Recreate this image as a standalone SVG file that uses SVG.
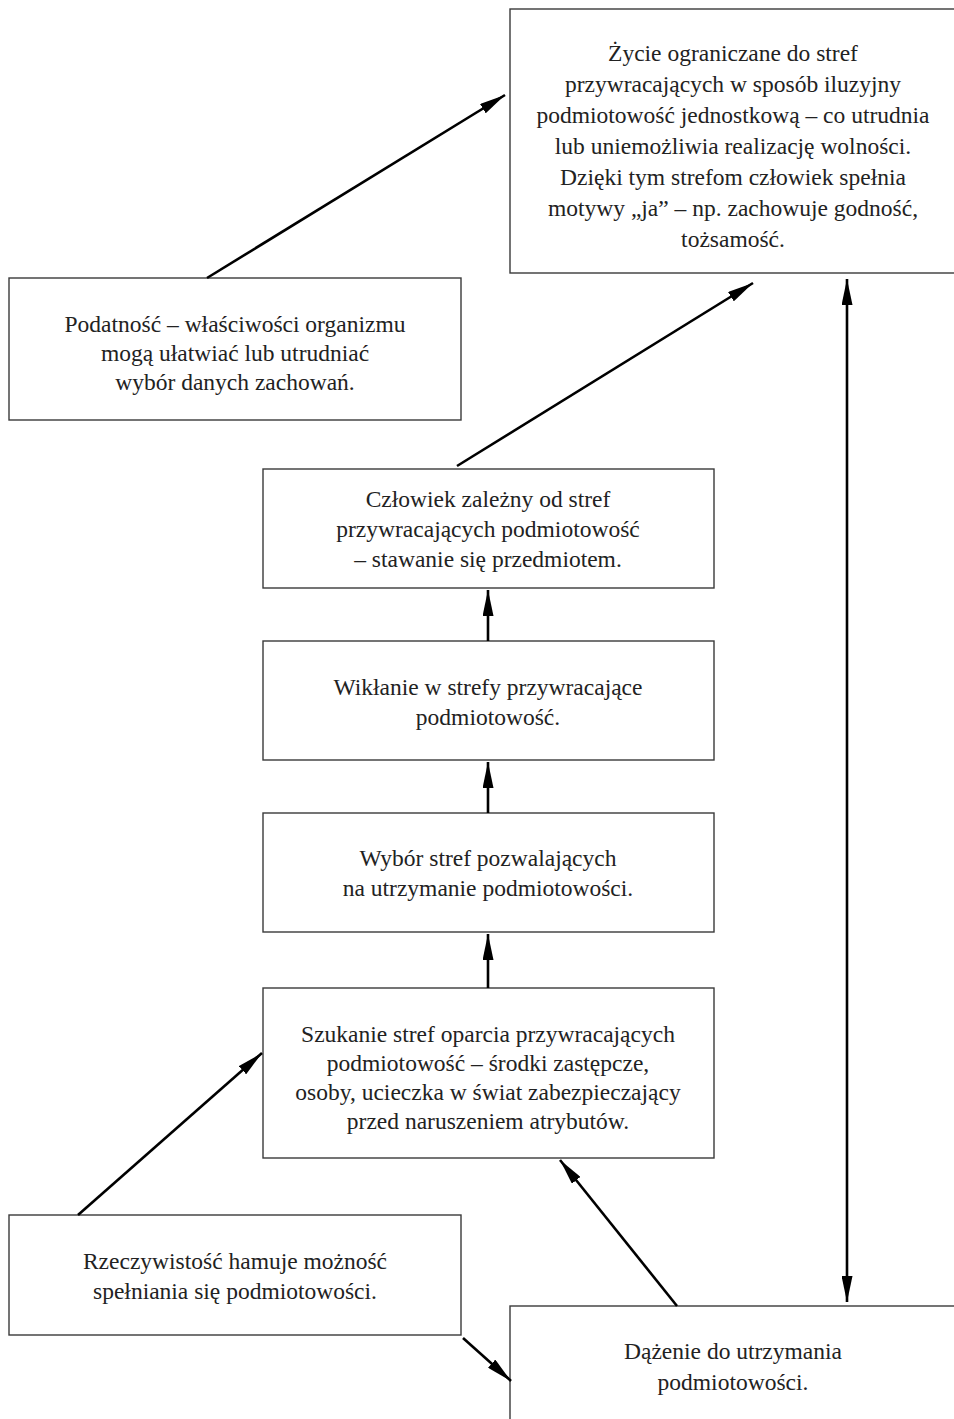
<svg xmlns="http://www.w3.org/2000/svg" width="954" height="1419" viewBox="0 0 954 1419">
<style>
.box{fill:#fff;stroke:#3a3a3a;stroke-width:1.4}
.t{font-family:"Liberation Serif","Times New Roman",serif;font-size:23.5px;fill:#222;text-anchor:middle}
.c{stroke:#000;stroke-width:2.6;fill:none}
</style>
<defs>
<marker id="ah" viewBox="0 0 26 11" refX="26" refY="5.5" markerWidth="26" markerHeight="11" markerUnits="userSpaceOnUse" orient="auto-start-reverse">
<path d="M0,0 L26,5.5 L0,11 Z" fill="#000"/>
</marker>
</defs>
<rect width="954" height="1419" fill="#fff"/>
<g id="n-zycie">
<rect class="box" x="510" y="9" width="450" height="264"/>
<text class="t" x="733" y="61">Życie ograniczane do stref</text>
<text class="t" x="733" y="92">przywracających w sposób iluzyjny</text>
<text class="t" x="733" y="123">podmiotowość jednostkową – co utrudnia</text>
<text class="t" x="733" y="154">lub uniemożliwia realizację wolności.</text>
<text class="t" x="733" y="185">Dzięki tym strefom człowiek spełnia</text>
<text class="t" x="733" y="216">motywy „ja” – np. zachowuje godność,</text>
<text class="t" x="733" y="247">tożsamość.</text>
</g>
<g id="n-podatnosc">
<rect class="box" x="9" y="278" width="452" height="142"/>
<text class="t" x="235" y="332">Podatność – właściwości organizmu</text>
<text class="t" x="235" y="361">mogą ułatwiać lub utrudniać</text>
<text class="t" x="235" y="390">wybór danych zachowań.</text>
</g>
<g id="n-czlowiek">
<rect class="box" x="263" y="469" width="451" height="119"/>
<text class="t" x="488" y="507">Człowiek zależny od stref</text>
<text class="t" x="488" y="537">przywracających podmiotowość</text>
<text class="t" x="488" y="567">– stawanie się przedmiotem.</text>
</g>
<g id="n-wiklanie">
<rect class="box" x="263" y="641" width="451" height="119"/>
<text class="t" x="488" y="695">Wikłanie w strefy przywracające</text>
<text class="t" x="488" y="725">podmiotowość.</text>
</g>
<g id="n-wybor">
<rect class="box" x="263" y="813" width="451" height="119"/>
<text class="t" x="488" y="866">Wybór stref pozwalających</text>
<text class="t" x="488" y="896">na utrzymanie podmiotowości.</text>
</g>
<g id="n-szukanie">
<rect class="box" x="263" y="988" width="451" height="170"/>
<text class="t" x="488" y="1042">Szukanie stref oparcia przywracających</text>
<text class="t" x="488" y="1071">podmiotowość – środki zastępcze,</text>
<text class="t" x="488" y="1100">osoby, ucieczka w świat zabezpieczający</text>
<text class="t" x="488" y="1129">przed naruszeniem atrybutów.</text>
</g>
<g id="n-rzeczywistosc">
<rect class="box" x="9" y="1215" width="452" height="120"/>
<text class="t" x="235" y="1269">Rzeczywistość hamuje możność</text>
<text class="t" x="235" y="1299">spełniania się podmiotowości.</text>
</g>
<g id="n-dazenie">
<rect class="box" x="510" y="1306" width="450" height="130"/>
<text class="t" x="733" y="1359">Dążenie do utrzymania</text>
<text class="t" x="733" y="1390">podmiotowości.</text>
</g>
<g id="connectors">
<line class="c" x1="207" y1="278" x2="505" y2="95" marker-end="url(#ah)"/>
<line class="c" x1="457" y1="466" x2="753" y2="283" marker-end="url(#ah)"/>
<line class="c" x1="488" y1="641" x2="488" y2="590" marker-end="url(#ah)"/>
<line class="c" x1="488" y1="813" x2="488" y2="762" marker-end="url(#ah)"/>
<line class="c" x1="488" y1="988" x2="488" y2="934" marker-end="url(#ah)"/>
<line class="c" x1="78" y1="1215" x2="262" y2="1053" marker-end="url(#ah)"/>
<line class="c" x1="677" y1="1306" x2="560" y2="1160" marker-end="url(#ah)"/>
<line class="c" x1="463" y1="1338" x2="511" y2="1381" marker-end="url(#ah)"/>
<line class="c" x1="847" y1="279" x2="847" y2="1302" marker-start="url(#ah)" marker-end="url(#ah)"/>
</g>
</svg>
